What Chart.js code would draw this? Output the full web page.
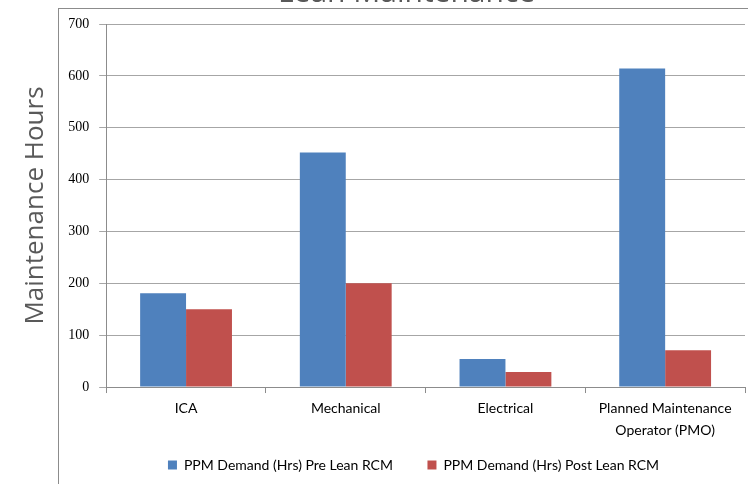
<!DOCTYPE html>
<html>
<head>
<meta charset="utf-8">
<script src="https://cdn.jsdelivr.net/npm/chart.js@4/dist/chart.umd.min.js"></script>
<style>
  body { margin: 0; background: #fff; }
  #wrap { position: relative; width: 748px; height: 484px; overflow: hidden; }
  #frame { position: absolute; left: 58px; top: 8px; width: 700px; height: 490px;
           border-left: 1px solid #8c8c8c; border-top: 1px solid #8c8c8c; }
  #chart { position: absolute; left: 0; top: -25px; }
</style>
</head>
<body>
<div id="wrap">
  <div id="frame"></div>
  <canvas id="chart" width="748" height="509"></canvas>
</div>
<script>
'use strict';
// chart data
var categories = ['ICA', 'Mechanical', 'Electrical', ['Planned Maintenance', 'Operator (PMO)']];
var preLean = [181, 452, 54, 614];
var postLean = [150, 200, 29, 71];
var seriesNames = ['PPM Demand (Hrs) Pre Lean RCM', 'PPM Demand (Hrs) Post Lean RCM'];
var yTicks = [0, 100, 200, 300, 400, 500, 600, 700];

var sansFont = "Lato, 'Liberation Sans Narrow', sans-serif";

var data = {
  labels: categories,
  datasets: [
    {
      label: seriesNames[0],
      data: preLean,
      backgroundColor: '#4f81bd'
    },
    {
      label: seriesNames[1],
      data: postLean,
      backgroundColor: '#c0504d'
    }]
};

// the original chart is centred on its frame, not on the window
var shiftBlocks = {
  id: 'shiftBlocks',
  afterLayout: function(chart) {
    if (chart.titleBlock) { chart.titleBlock.left += 52; }
    if (chart.legend) { chart.legend.left += 66; }
  }
};

var ctx = document.getElementById('chart').getContext('2d');
new Chart(ctx, {
  type: 'bar',
  data: data,
  plugins: [shiftBlocks],
  options: {
    responsive: false,
    animation: false,
    layout: {
      padding: { left: 16, right: 3, top: 0, bottom: 2 }
    },
    datasets: {
      bar: { barPercentage: 1, categoryPercentage: 0.575 }
    },
    plugins: {
      title: {
        display: true,
        text: 'Lean Maintenance',
        color: '#595959',
        font: { family: "'Open Sans', sans-serif", size: 30, weight: 'normal' },
        padding: { top: 0, bottom: 13 }
      },
      legend: {
        position: 'bottom',
        labels: {
          boxWidth: 9,
          boxHeight: 9,
          padding: 13,
          color: '#000',
          font: { family: sansFont, size: 14 },
          generateLabels: function(chart) {
            var items = Chart.defaults.plugins.legend.labels.generateLabels(chart);
            // wider gap after the first entry
            items[0].text = items[0].text + '      ';
            return items;
          }
        }
      },
      tooltip: { enabled: false }
    },
    scales: {
      x: {
        grid: {
          drawOnChartArea: false,
          tickLength: 6,
          color: '#8c8c8c'
        },
        border: { color: '#8c8c8c' },
        ticks: {
          color: '#000',
          padding: 4,
          maxRotation: 0,
          font: { family: sansFont, size: 14, lineHeight: 1.57 }
        }
      },
      y: {
        min: 0,
        max: 700,
        afterBuildTicks: function(axis) {
          axis.ticks = yTicks.map(function(v) { return { value: v }; });
        },
        grid: {
          color: '#a6a6a6',
          tickLength: 7
        },
        border: { color: '#8c8c8c' },
        ticks: {
          color: '#000',
          padding: 10,
          font: { family: "'Liberation Serif', serif", size: 14 }
        },
        title: {
          display: true,
          text: 'Maintenance Hours',
          color: '#595959',
          font: { family: "'Open Sans', sans-serif", size: 26, weight: 'normal' },
          padding: { top: 4, bottom: 7 }
        }
      }
    }
  }
});
</script>
</body>
</html>
